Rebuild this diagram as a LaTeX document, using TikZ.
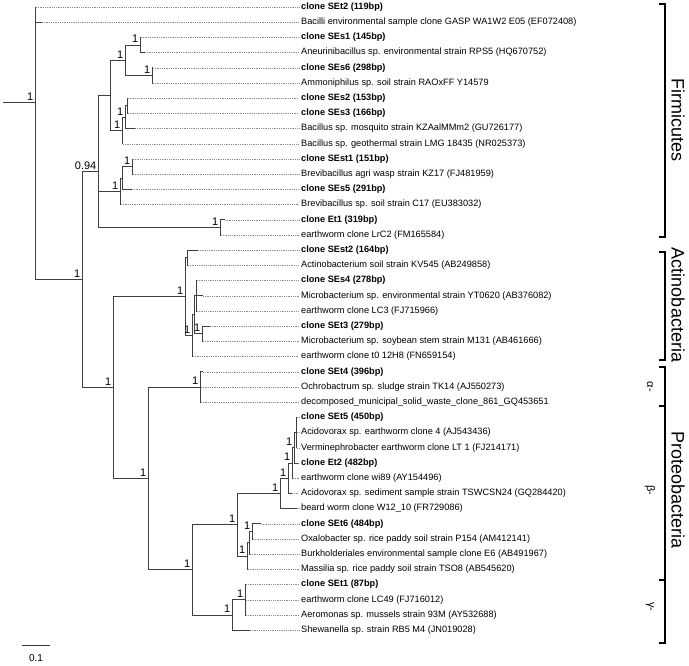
\documentclass[tikz,border=0pt]{standalone}
\usepackage{fontspec}
\setmainfont{Liberation Sans}
\tikzset{
  br/.style={draw=black!75, line width=0.9pt},
  dt/.style={draw=black!45, line width=0.6pt, dash pattern=on 0.6pt off 1.2pt},
  leaf/.style={anchor=west, inner xsep=2pt, inner ysep=0pt, font=\fontsize{9.2}{10}\selectfont},
  nl/.style={anchor=south east, inner sep=0pt, font=\fontsize{11}{12}\selectfont},
  grp/.style={rotate=-90, inner sep=0pt, font=\fontsize{18}{20}\selectfont},
  sub/.style={rotate=-90, inner sep=0pt, font=\fontsize{11}{12}\selectfont},
  brk/.style={draw=black, line width=1.5pt}
}
\newcommand\tleaf[5]{%
  \coordinate (#1t) at (#4,{7+15.2*(#2-1)});
  \node[leaf] (#1) at (299,{7+15.2*(#2-1)}) {#5};
  \draw[br] (#3) |- (#1t);
  \draw[dt] (#1t) -- (#1.west);
}
\newcommand\nlab[2]{\node[nl] (l#1) at ([xshift=-1.5pt,yshift=2pt]#1) {#2};}
\begin{document}
\begin{tikzpicture}[x=1pt,y=-1pt]
\useasboundingbox (0,0) rectangle (689,665);
% internal nodes
\coordinate (R0) at (3,102.9);
\coordinate (root) at (35,102.9);
\coordinate (A) at (82,279.5);
\coordinate (B) at (98,171.4);
\coordinate (F) at (110,95.4);
\coordinate (C) at (125,60.2);
\coordinate (D) at (140,45);
\coordinate (E) at (152,75.4);
\coordinate (G) at (122,130.5);
\coordinate (I) at (125,117.2);
\coordinate (H) at (127,105.8);
\coordinate (M) at (120,191.3);
\coordinate (L) at (122,178);
\coordinate (K) at (132,166.6);
\coordinate (N) at (220,227.4);
\coordinate (P) at (113,387.6);
\coordinate (Q) at (185,296.8);
\coordinate (X) at (187,257.8);
\coordinate (V) at (192,335.7);
\coordinate (U) at (194,314.8);
\coordinate (T) at (196,295.8);
\coordinate (W) at (202,333.8);
\coordinate (R) at (148,478.5);
\coordinate (Y) at (200,387);
\coordinate (Z) at (192,569.9);
\coordinate (AA) at (237,524.8);
\coordinate (AC) at (280,493.4);
\coordinate (AE) at (288,478.2);
\coordinate (AF) at (292,463);
\coordinate (AH) at (294,447.8);
\coordinate (AG) at (296,432.6);
\coordinate (AD) at (247,556.1);
\coordinate (AJ) at (249,542.8);
\coordinate (AI) at (252,531.4);
\coordinate (AB) at (232,615);
\coordinate (AK) at (245,599.8);
% internal edges
\draw[br] (R0) -- (root);
\draw[br] (root) |- (A);
\draw[br] (A) |- (B);
\draw[br] (A) |- (P);
\draw[br] (B) |- (F);
\draw[br] (B) |- (M);
\draw[br] (B) |- (N);
\draw[br] (F) |- (C);
\draw[br] (F) |- (G);
\draw[br] (C) |- (D);
\draw[br] (C) |- (E);
\draw[br] (G) |- (I);
\draw[br] (I) |- (H);
\draw[br] (M) |- (L);
\draw[br] (L) |- (K);
\draw[br] (P) |- (Q);
\draw[br] (P) |- (R);
\draw[br] (Q) |- (X);
\draw[br] (Q) |- (V);
\draw[br] (V) |- (U);
\draw[br] (U) |- (T);
\draw[br] (U) |- (W);
\draw[br] (R) |- (Y);
\draw[br] (R) |- (Z);
\draw[br] (Z) |- (AA);
\draw[br] (Z) |- (AB);
\draw[br] (AA) |- (AC);
\draw[br] (AA) |- (AD);
\draw[br] (AC) |- (AE);
\draw[br] (AE) |- (AF);
\draw[br] (AF) |- (AH);
\draw[br] (AH) |- (AG);
\draw[br] (AD) |- (AJ);
\draw[br] (AJ) |- (AI);
\draw[br] (AB) |- (AK);
% leaves
\tleaf{l1}{1}{root}{36}{\textbf{clone SEt2 (119bp)}}
\tleaf{l2}{2}{root}{42}{Bacilli environmental sample clone GASP WA1W2 E05 (EF072408)}
\tleaf{l3}{3}{D}{141}{\textbf{clone SEs1 (145bp)}}
\tleaf{l4}{4}{D}{145}{Aneurinibacillus sp. environmental strain RPS5 (HQ670752)}
\tleaf{l5}{5}{E}{153}{\textbf{clone SEs6 (298bp)}}
\tleaf{l6}{6}{E}{153}{Ammoniphilus sp. soil strain RAOxFF Y14579}
\tleaf{l7}{7}{H}{128}{\textbf{clone SEs2 (153bp)}}
\tleaf{l8}{8}{H}{128}{\textbf{clone SEs3 (166bp)}}
\tleaf{l9}{9}{I}{135}{Bacillus sp. mosquito strain KZAalMMm2 (GU726177)}
\tleaf{l10}{10}{G}{123}{Bacillus sp. geothermal strain LMG 18435 (NR025373)}
\tleaf{l11}{11}{K}{133}{\textbf{clone SEst1 (151bp)}}
\tleaf{l12}{12}{K}{133}{Brevibacillus agri wasp strain KZ17 (FJ481959)}
\tleaf{l13}{13}{L}{132}{\textbf{clone SEs5 (291bp)}}
\tleaf{l14}{14}{M}{121}{Brevibacillus sp. soil strain C17 (EU383032)}
\tleaf{l15}{15}{N}{225}{\textbf{clone Et1 (319bp)}}
\tleaf{l16}{16}{N}{221}{earthworm clone LrC2 (FM165584)}
\tleaf{l17}{17}{X}{198}{\textbf{clone SEst2 (164bp)}}
\tleaf{l18}{18}{X}{188}{Actinobacterium soil strain KV545 (AB249858)}
\tleaf{l19}{19}{T}{197}{\textbf{clone SEs4 (278bp)}}
\tleaf{l20}{20}{T}{203}{Microbacterium sp. environmental strain YT0620 (AB376082)}
\tleaf{l21}{21}{T}{197}{earthworm clone LC3 (FJ715966)}
\tleaf{l22}{22}{W}{210}{\textbf{clone SEt3 (279bp)}}
\tleaf{l23}{23}{W}{203}{Microbacterium sp. soybean stem strain M131 (AB461666)}
\tleaf{l24}{24}{V}{193}{earthworm clone t0 12H8 (FN659154)}
\tleaf{l25}{25}{Y}{203}{\textbf{clone SEt4 (396bp)}}
\tleaf{l26}{26}{Y}{201}{Ochrobactrum sp. sludge strain TK14 (AJ550273)}
\tleaf{l27}{27}{Y}{201}{decomposed\_municipal\_solid\_waste\_clone\_861\_GQ453651}
\tleaf{l28}{28}{AG}{297}{\textbf{clone SEt5 (450bp)}}
\tleaf{l29}{29}{AG}{297}{Acidovorax sp. earthworm clone 4 (AJ543436)}
\tleaf{l30}{30}{AG}{297}{Verminephrobacter earthworm clone LT 1 (FJ214171)}
\tleaf{l31}{31}{AH}{298}{\textbf{clone Et2 (482bp)}}
\tleaf{l32}{32}{AF}{293}{earthworm clone wi89 (AY154496)}
\tleaf{l33}{33}{AE}{292}{Acidovorax sp. sediment sample strain TSWCSN24 (GQ284420)}
\tleaf{l34}{34}{AC}{297}{beard worm clone W12\_10 (FR729086)}
\tleaf{l35}{35}{AI}{261}{\textbf{clone SEt6 (484bp)}}
\tleaf{l36}{36}{AI}{253}{Oxalobacter sp. rice paddy soil strain P154 (AM412141)}
\tleaf{l37}{37}{AJ}{250}{Burkholderiales environmental sample clone E6 (AB491967)}
\tleaf{l38}{38}{AD}{248}{Massilia sp. rice paddy soil strain TSO8 (AB545620)}
\tleaf{l39}{39}{AK}{246}{\textbf{clone SEt1 (87bp)}}
\tleaf{l40}{40}{AK}{246}{earthworm clone LC49 (FJ716012)}
\tleaf{l41}{41}{AK}{246}{Aeromonas sp. mussels strain 93M (AY532688)}
\tleaf{l42}{42}{AB}{250}{Shewanella sp. strain RB5 M4 (JN019028)}
% node support labels
\nlab{root}{1}
\nlab{A}{1}
\nlab{B}{0.94}
\nlab{C}{1}
\nlab{D}{1}
\nlab{E}{1}
\nlab{G}{1}
\nlab{I}{1}
\nlab{K}{1}
\nlab{M}{1}
\nlab{N}{1}
\nlab{P}{1}
\nlab{Q}{1}
\nlab{V}{1}
\nlab{W}{1}
\nlab{R}{1}
\nlab{Y}{1}
\nlab{Z}{1}
\nlab{AA}{1}
\nlab{AC}{1}
\nlab{AE}{1}
\nlab{AF}{1}
\nlab{AH}{1}
\nlab{AI}{1}
\nlab{AD}{1}
\nlab{AB}{1}
\nlab{AK}{1}
% group brackets
\coordinate (f1) at (665,4);
\coordinate (f2) at (665,237);
\draw[brk] ([xshift=-6pt]f1) -- (f1) -- (f2) -- ([xshift=-6pt]f2);
\node[grp] (gF) at (678,120) {Firmicutes};
\coordinate (a1) at (665,252);
\coordinate (a2) at (665,360);
\draw[brk] ([xshift=-6pt]a1) -- (a1) -- (a2) -- ([xshift=-6pt]a2);
\node[grp] (gA) at (678,305) {Actinobacteria};
\coordinate (p1) at (665,367);
\coordinate (p2) at (665,406);
\coordinate (p3) at (665,580);
\coordinate (p4) at (665,643);
\draw[brk] ([xshift=-6pt]p1) -- (p1) -- (p4) -- ([xshift=-6pt]p4);
\draw[brk] ([xshift=-6pt]p2) -- (p2);
\draw[brk] ([xshift=-6pt]p3) -- (p3);
\node[grp] (gP) at (678,490) {Proteobacteria};
\node[sub] (sa) at (650,387) {α-};
\node[sub] (sb) at (650,490) {β-};
\node[sub] (sg) at (650,607) {γ-};
% scale bar
\coordinate (s1) at (22,645);
\coordinate (s2) at (50,645);
\draw[black!80, line width=0.9pt] (s1) -- (s2);
\node[inner sep=0pt, font=\fontsize{10}{11}\selectfont] (sl) at (36,658) {0.1};
\end{tikzpicture}
\end{document}
